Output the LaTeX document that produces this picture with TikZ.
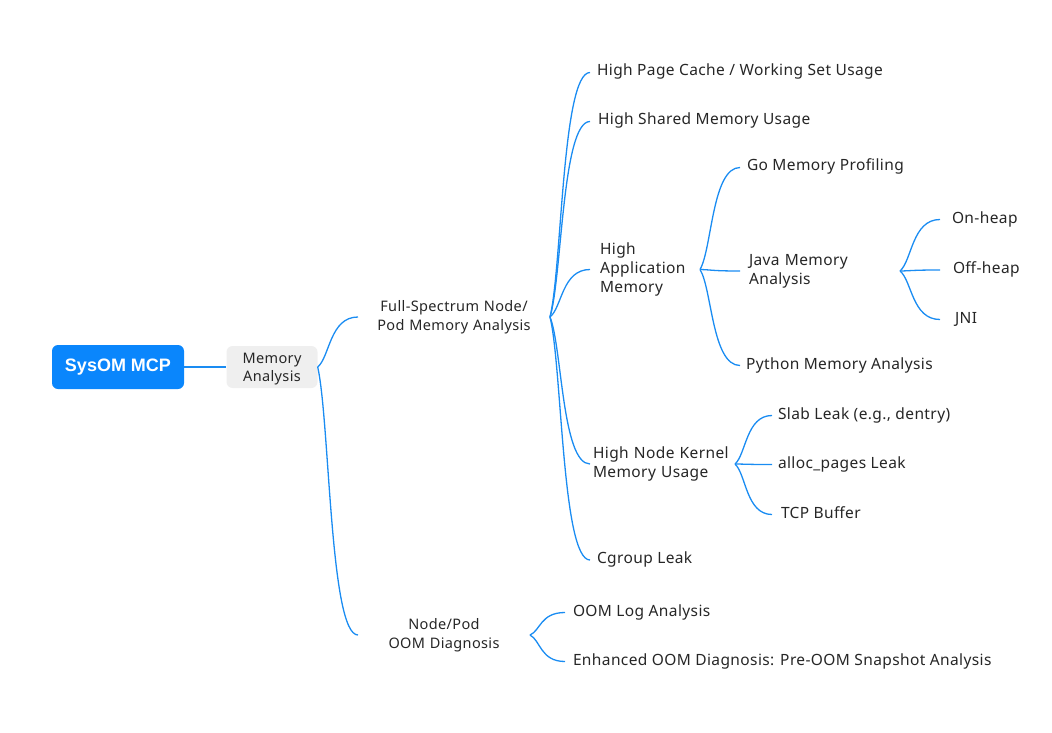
\documentclass[tikz,border=0pt]{standalone}
\usepackage{fontspec}
\setmainfont{Noto Sans}[LetterSpace=2.5]
\newfontfamily\rootfont{Liberation Sans}
\usetikzlibrary{calc}
\definecolor{lineblue}{HTML}{1A8CF2}
\definecolor{rootblue}{HTML}{0A86FC}
\definecolor{memgrey}{HTML}{EFEFEF}
\definecolor{txt}{HTML}{262626}
\newcommand\mmconn[2]{\draw[conn] let \p1=(#1.east), \p2=(#2.west) in (\p1) .. controls ({\x1+0.3*(\x2-\x1)},{\y1+0.2*(\y2-\y1)}) and ({\x1+0.3*(\x2-\x1)},\y2) .. (\p2);}
\begin{document}
\begin{tikzpicture}[x=1pt,y=-1pt,
  conn/.style={draw=lineblue,line width=1.3pt},
  big/.style={font=\fontsize{15.5}{19}\selectfont,text=txt,inner sep=0pt,anchor=west},
  small/.style={font=\fontsize{14.5}{18.5}\selectfont,text=txt,inner sep=0pt,anchor=west,align=center},
  leaf/.style={big,text height=10pt,text depth=3pt}]
\useasboundingbox (0,0) rectangle (1052,733);
\node[fill=rootblue,rounded corners=6pt,minimum width=132pt,minimum height=44pt,text=white,font=\rootfont\fontsize{18}{20}\selectfont\bfseries] (root) at (118,367) {SysOM MCP};
\node[fill=memgrey,rounded corners=6pt,minimum width=91pt,minimum height=42pt,text=txt,align=center,font=\fontsize{14.5}{18}\selectfont,inner sep=0pt,text depth=0pt] (mem) at (272,367) {Memory\\Analysis};
\node[small,outer xsep=14pt,text width=164pt] (fs) at (358,317) {Full-Spectrum Node/\\Pod Memory Analysis};
\node[small,outer xsep=0pt,text width=172pt] (oom) at (358,635) {Node/Pod\\OOM Diagnosis};
% level 3
\node[leaf,outer xsep=7pt] (pc) at (590,72.5) {High Page Cache / Working Set Usage};
\node[leaf,outer xsep=8pt] (sh) at (590,121.5) {High Shared Memory Usage};
\node[big,outer xsep=10pt,text width=90pt,align=left] (app) at (590,269.5) {High\\Application\\Memory};
\node[big,outer xsep=3pt,text width=139pt,align=left] (kern) at (590,464) {High Node Kernel\\Memory Usage};
\node[leaf,outer xsep=7pt] (cg) at (590,560) {Cgroup Leak};
\node[leaf,outer xsep=8pt] (olog) at (565,612.5) {OOM Log Analysis};
\node[leaf,outer xsep=8pt] (enh) at (565,661.5) {Enhanced OOM Diagnosis: Pre-OOM Snapshot Analysis};
% level 4
\node[leaf,outer xsep=7pt] (go) at (740,167.5) {Go Memory Profiling};
\node[big,outer xsep=9pt,text width=142pt,align=left] (java) at (740,271) {Java Memory\\Analysis};
\node[leaf,outer xsep=6pt] (py) at (740,365.5) {Python Memory Analysis};
\node[leaf,outer xsep=6pt] (slab) at (772,415.5) {Slab Leak (e.g., dentry)};
\node[leaf,outer xsep=6pt] (alloc) at (772,464.5) {alloc\_pages Leak};
\node[leaf,outer xsep=9pt] (tcp) at (772,514.5) {TCP Buffer};
% level 5
\node[leaf,outer xsep=12pt] (on) at (940,219.5) {On-heap};
\node[leaf,outer xsep=13pt] (off) at (940,270) {Off-heap};
\node[leaf,outer xsep=15pt] (jni) at (940,319.5) {JNI};
% connectors
\draw[conn] (root) -- (mem);
\mmconn{mem}{fs}
\mmconn{mem}{oom}
\mmconn{fs}{pc}
\mmconn{fs}{sh}
\mmconn{fs}{app}
\mmconn{fs}{kern}
\mmconn{fs}{cg}
\mmconn{oom}{olog}
\mmconn{oom}{enh}
\mmconn{app}{go}
\mmconn{app}{java}
\mmconn{app}{py}
\mmconn{java}{on}
\mmconn{java}{off}
\mmconn{java}{jni}
\mmconn{kern}{slab}
\mmconn{kern}{alloc}
\mmconn{kern}{tcp}
\end{tikzpicture}
\end{document}
